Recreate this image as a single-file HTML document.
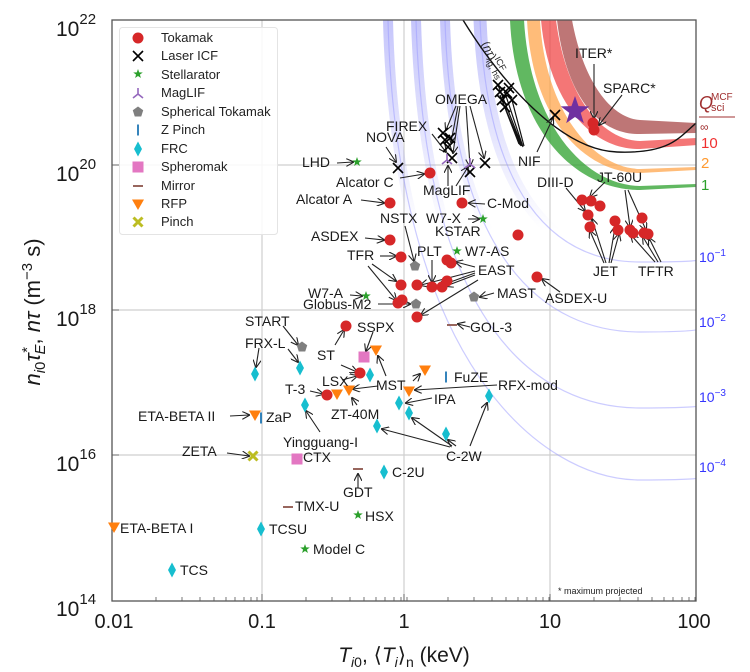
<!DOCTYPE html>
<html><head><meta charset="utf-8"><style>
html,body{margin:0;padding:0;background:#fff;}
svg{display:block;font-family:"Liberation Sans",sans-serif;}
.l{font-size:14px;fill:#1a1a1a;}
.lg{font-size:13px;fill:#222;}
</style></head><body>
<svg width="750" height="672" viewBox="0 0 750 672" xmlns="http://www.w3.org/2000/svg">
<defs>
<marker id="ah" markerWidth="8" markerHeight="8" refX="7" refY="4" orient="auto" markerUnits="userSpaceOnUse"><path d="M0,0 L8,4 L0,8" fill="none" stroke="#222" stroke-width="1.1"/></marker>
<g id="tk"><circle r="5.5" fill="#d62728"/></g>
<g id="xx"><path d="M-5,-5 L5,5 M-5,5 L5,-5" stroke="#000" stroke-width="1.6"/></g>
<g id="st"><polygon points="0,-5 1.18,-1.62 4.76,-1.55 1.9,0.62 2.94,4.05 0,2 -2.94,4.05 -1.9,0.62 -4.76,-1.55 -1.18,-1.62" fill="#2ca02c"/></g>
<g id="pg"><polygon points="0,-5.5 5.23,-1.7 3.23,4.45 -3.23,4.45 -5.23,-1.7" fill="#7f7f7f"/></g>
<g id="dm"><polygon points="0,-7.5 4,0 0,7.5 -4,0" fill="#17becf"/></g>
<g id="sq"><rect x="-5.5" y="-5.5" width="11" height="11" fill="#e377c2"/></g>
<g id="mr"><path d="M-5,0 L5,0" stroke="#8c564b" stroke-width="1.8"/></g>
<g id="rf"><polygon points="-6,-4.5 6,-4.5 0,6" fill="#ff7f0e"/></g>
<g id="pc"><path d="M-4.5,-4.5 L4.5,4.5 M-4.5,4.5 L4.5,-4.5" stroke="#bcbd22" stroke-width="3"/></g>
<g id="zp"><path d="M0,-5.5 L0,5.5" stroke="#1f77b4" stroke-width="1.8"/></g>
<g id="ml"><path d="M0,0 L0,-6 M0,0 L-5,4 M0,0 L5,4" stroke="#9467bd" stroke-width="1.6" fill="none"/></g>
<linearGradient id="bg" gradientUnits="userSpaceOnUse" x1="0" y1="20" x2="0" y2="230"><stop offset="0" stop-color="#6f6ff5" stop-opacity="0.4"/><stop offset="1" stop-color="#6f6ff5" stop-opacity="0"/></linearGradient>
<clipPath id="pa"><rect x="112" y="20" width="584" height="581"/></clipPath>
</defs>

<g stroke="#cfcfcf" stroke-width="1.2">
<line x1="262" y1="20" x2="262" y2="601"/><line x1="404" y1="20" x2="404" y2="601"/><line x1="550" y1="20" x2="550" y2="601"/>
<line x1="112" y1="165" x2="696" y2="165"/><line x1="112" y1="310" x2="696" y2="310"/><line x1="112" y1="455" x2="696" y2="455"/>
</g>

<g clip-path="url(#pa)">
<g fill="none">
<path d="M388,20 C396,360 540,480 640,480 S690,474 700,470" stroke="url(#bg)" stroke-width="10"/>
<path d="M416,20 C425,330 540,408 640,408 S690,402 700,398" stroke="url(#bg)" stroke-width="10"/>
<path d="M445,20 C452,260 545,332 640,332 S690,325 700,320" stroke="url(#bg)" stroke-width="10"/>
<path d="M480,20 C487,190 550,262 640,262 S690,258 700,254" stroke="url(#bg)" stroke-width="13"/>
<g stroke="#9a9aff" stroke-width="1.2" opacity="0.5">
<path d="M388,20 C396,360 540,480 640,480 S690,474 700,470"/>
<path d="M416,20 C425,330 540,408 640,408 S690,402 700,398"/>
<path d="M445,20 C452,260 545,332 640,332 S690,325 700,320"/>
<path d="M480,20 C487,190 550,262 640,262 S690,258 700,254"/>
</g>
</g>
<path d="M510,20 C515,130 575,190 640,190 L697,187 L697,184 L640,186 C585,185 530,125 524,20 Z" fill="#2ca02c" opacity="0.75"/>
<path d="M527,20 C532,120 585,173 640,173 L697,170 L697,167 L640,169 C592,168 545,110 540,20 Z" fill="#ffa040" opacity="0.7"/>
<path d="M541,20 C548,100 590,150 640,149 L697,145 L697,138 L640,141 C598,140 565,90 556,20 Z" fill="#f03c3c" opacity="0.7"/>
<path d="M557,20 C565,90 595,135 640,134 L697,133 L697,123 L640,120 C610,118 583,80 572,20 Z" fill="#a84848" opacity="0.75"/>
<path d="M463,20 C500,80 560,150 617,152 S680,135 700,120" fill="none" stroke="#111" stroke-width="1.4"/>
</g>
<text transform="translate(481,44) rotate(62)" font-size="12" fill="#222">(<tspan font-style="italic">nτ</tspan>)<tspan dy="-5" font-size="9">ICF</tspan><tspan dy="9" dx="-16" font-size="9">ig, hs</tspan></text>

<rect x="112" y="20" width="584" height="581" fill="none" stroke="#555" stroke-width="1.3"/>
<g stroke="#555" stroke-width="0.8">
<path d="M156,601v-4M182,601v-4M200,601v-4M214,601v-4M226,601v-4M235,601v-4M244,601v-4M251,601v-4M257,601v-4
M306,601v-4M332,601v-4M350,601v-4M364,601v-4M376,601v-4M385,601v-4M394,601v-4M401,601v-4M407,601v-4
M448,601v-4M474,601v-4M492,601v-4M506,601v-4M518,601v-4M527,601v-4M536,601v-4M543,601v-4M549,601v-4
M594,601v-4M620,601v-4M638,601v-4M652,601v-4M664,601v-4M673,601v-4M682,601v-4M689,601v-4M695,601v-4"/>
<path d="M262,601v-7M404,601v-7M550,601v-7M112,165h7M112,310h7M112,455h7"/>
</g>

<g stroke="#222" stroke-width="1.1" marker-end="url(#ah)" fill="none">
<line x1="337" y1="163" x2="353" y2="162"/>
<line x1="386" y1="147" x2="396" y2="162"/>
<line x1="432" y1="134" x2="446" y2="152"/>
<line x1="456" y1="106" x2="446" y2="130"/>
<line x1="458" y1="106" x2="451" y2="142"/>
<line x1="460" y1="106" x2="453" y2="153"/>
<line x1="466" y1="106" x2="470" y2="166"/>
<line x1="470" y1="106" x2="484" y2="158"/>
<line x1="537" y1="152" x2="553" y2="118"/>
<line x1="594" y1="64" x2="594" y2="118"/>
<line x1="622" y1="95" x2="599" y2="125"/>
<line x1="448" y1="186" x2="448" y2="166"/>
<line x1="456" y1="186" x2="468" y2="167"/>
<line x1="400" y1="178" x2="424" y2="174"/>
<line x1="361" y1="200" x2="384" y2="203"/>
<line x1="485" y1="204" x2="469" y2="203"/>
<line x1="468" y1="219" x2="479" y2="219"/>
<line x1="365" y1="238" x2="384" y2="240"/>
<line x1="380" y1="256" x2="396" y2="256"/>
<line x1="372" y1="264" x2="396" y2="281"/>
<line x1="368" y1="266" x2="396" y2="300"/>
<line x1="405" y1="226" x2="414" y2="261"/>
<line x1="432" y1="260" x2="432" y2="282"/>
<line x1="475" y1="267" x2="456" y2="262"/>
<line x1="475" y1="271" x2="421" y2="285"/>
<line x1="475" y1="273" x2="437" y2="287"/>
<line x1="475" y1="275" x2="446" y2="286"/>
<line x1="478" y1="280" x2="421" y2="315"/>
<line x1="494" y1="293" x2="480" y2="297"/>
<line x1="560" y1="292" x2="542" y2="279"/>
<line x1="566" y1="188" x2="585" y2="211"/>
<line x1="605" y1="182" x2="590" y2="197"/>
<line x1="604" y1="263" x2="590" y2="231"/>
<line x1="606" y1="263" x2="592" y2="219"/>
<line x1="609" y1="263" x2="615" y2="227"/>
<line x1="611" y1="263" x2="619" y2="234"/>
<line x1="655" y1="262" x2="631" y2="235"/>
<line x1="658" y1="262" x2="643" y2="237"/>
<line x1="661" y1="262" x2="649" y2="238"/>
<line x1="625" y1="190" x2="630" y2="227"/>
<line x1="628" y1="190" x2="646" y2="230"/>
<line x1="350" y1="295" x2="362" y2="296"/>
<line x1="378" y1="304" x2="410" y2="304"/>
<line x1="283" y1="326" x2="298" y2="345"/>
<line x1="259" y1="348" x2="256" y2="367"/>
<line x1="288" y1="349" x2="298" y2="362"/>
<line x1="335" y1="345" x2="344" y2="330"/>
<line x1="373" y1="332" x2="366" y2="351"/>
<line x1="341" y1="365" x2="357" y2="372"/>
<line x1="342" y1="380" x2="357" y2="376"/>
<line x1="386" y1="376" x2="378" y2="356"/>
<line x1="378" y1="386" x2="353" y2="389"/>
<line x1="310" y1="391" x2="323" y2="394"/>
<line x1="357" y1="405" x2="352" y2="398"/>
<line x1="497" y1="385" x2="415" y2="390"/>
<line x1="432" y1="398" x2="406" y2="403"/>
<line x1="413" y1="381" x2="420" y2="374"/>
<line x1="230" y1="416" x2="249" y2="415"/>
<line x1="320" y1="432" x2="306" y2="411"/>
<line x1="450" y1="447" x2="382" y2="429"/>
<line x1="452" y1="446" x2="412" y2="418"/>
<line x1="456" y1="446" x2="448" y2="440"/>
<line x1="470" y1="446" x2="487" y2="403"/>
<line x1="227" y1="453" x2="249" y2="456"/>
<line x1="358" y1="488" x2="358" y2="474"/>
<line x1="470" y1="327" x2="458" y2="324"/>
</g>
<g stroke="#111" stroke-width="1.2"><path d="M498,85 L522,146 M505,93 L523,147 M502,100 L521,146 M512,100 L524,146 M505,107 L520,145 M500,95 L519,144"/></g>

<use href="#xx" x="398" y="168"/><use href="#xx" x="498" y="85"/><use href="#xx" x="507" y="93"/><use href="#xx" x="502" y="100"/><use href="#xx" x="512" y="100"/><use href="#xx" x="505" y="107"/><use href="#xx" x="500" y="92"/><use href="#xx" x="509" y="88"/>
<use href="#xx" x="443" y="133"/><use href="#xx" x="450" y="138"/><use href="#xx" x="448" y="147"/><use href="#xx" x="445" y="140"/><use href="#xx" x="452" y="158"/><use href="#xx" x="470" y="172"/><use href="#xx" x="485" y="163"/><use href="#xx" x="555" y="115"/>
<use href="#ml" x="447" y="160"/><use href="#ml" x="470" y="164"/>
<use href="#tk" x="430" y="173"/><use href="#tk" x="390" y="203"/><use href="#tk" x="462" y="203"/><use href="#tk" x="518" y="235"/><use href="#tk" x="390" y="240"/><use href="#tk" x="401" y="257"/><use href="#tk" x="447" y="260"/><use href="#tk" x="451" y="263"/>
<use href="#tk" x="401" y="285"/><use href="#tk" x="417" y="285"/><use href="#tk" x="432" y="287"/><use href="#tk" x="442" y="287"/><use href="#tk" x="447" y="281"/><use href="#tk" x="398" y="303"/><use href="#tk" x="402" y="300"/><use href="#tk" x="417" y="317"/><use href="#tk" x="537" y="277"/>
<use href="#tk" x="593" y="123"/><use href="#tk" x="594" y="130"/>
<use href="#tk" x="582" y="200"/><use href="#tk" x="591" y="201"/><use href="#tk" x="600" y="206"/><use href="#tk" x="588" y="215"/><use href="#tk" x="590" y="227"/>
<use href="#tk" x="615" y="221"/><use href="#tk" x="618" y="230"/><use href="#tk" x="630" y="230"/><use href="#tk" x="633" y="233"/><use href="#tk" x="642" y="218"/><use href="#tk" x="644" y="233"/><use href="#tk" x="648" y="234"/>
<use href="#tk" x="346" y="326"/><use href="#tk" x="360" y="373"/><use href="#tk" x="327" y="395"/>
<use href="#st" x="357" y="162"/><use href="#st" x="483" y="219"/><use href="#st" x="457" y="251"/><use href="#st" x="366" y="296"/><use href="#st" x="358" y="515"/><use href="#st" x="305" y="549"/>
<use href="#pg" x="415" y="266"/><use href="#pg" x="416" y="304"/><use href="#pg" x="474" y="297"/><use href="#pg" x="302" y="347"/>
<use href="#dm" x="255" y="374"/><use href="#dm" x="300" y="368"/><use href="#dm" x="370" y="375"/><use href="#dm" x="305" y="405"/><use href="#dm" x="399" y="403"/><use href="#dm" x="409" y="413"/><use href="#dm" x="377" y="426"/><use href="#dm" x="446" y="434"/><use href="#dm" x="489" y="396"/><use href="#dm" x="384" y="472"/><use href="#dm" x="261" y="529"/><use href="#dm" x="172" y="570"/>
<use href="#sq" x="364" y="357"/><use href="#sq" x="297" y="459"/>
<use href="#rf" x="376" y="350"/><use href="#rf" x="425" y="370"/><use href="#rf" x="409" y="391"/><use href="#rf" x="349" y="390"/><use href="#rf" x="337" y="394"/><use href="#rf" x="255" y="415"/><use href="#rf" x="114" y="527"/>
<use href="#zp" x="446" y="377"/><use href="#zp" x="261" y="418"/>
<use href="#pc" x="253" y="456"/>
<use href="#mr" x="358" y="469"/><use href="#mr" x="288" y="507"/><use href="#mr" x="452" y="325"/>
<polygon transform="translate(575,111) scale(3)" points="0,-5 1.18,-1.62 4.76,-1.55 1.9,0.62 2.94,4.05 0,2 -2.94,4.05 -1.9,0.62 -4.76,-1.55 -1.18,-1.62" fill="#7030a0"/>

<g class="l">
<text x="302" y="167">LHD</text>
<text x="366" y="142">NOVA</text>
<text x="386" y="131">FIREX</text>
<text x="435" y="104">OMEGA</text>
<text x="518" y="166">NIF</text>
<text x="575" y="58">ITER*</text>
<text x="603" y="93">SPARC*</text>
<text x="336" y="187">Alcator C</text>
<text x="296" y="204">Alcator A</text>
<text x="423" y="195">MagLIF</text>
<text x="487" y="208">C-Mod</text>
<text x="380" y="223">NSTX</text>
<text x="426" y="223">W7-X</text>
<text x="435" y="236">KSTAR</text>
<text x="311" y="241">ASDEX</text>
<text x="347" y="260">TFR</text>
<text x="417" y="256">PLT</text>
<text x="465" y="256">W7-AS</text>
<text x="478" y="275">EAST</text>
<text x="497" y="298">MAST</text>
<text x="545" y="303">ASDEX-U</text>
<text x="537" y="187">DIII-D</text>
<text x="597" y="182">JT-60U</text>
<text x="593" y="276">JET</text>
<text x="638" y="276">TFTR</text>
<text x="308" y="298">W7-A</text>
<text x="303" y="309">Globus-M2</text>
<text x="245" y="326">START</text>
<text x="245" y="348">FRX-L</text>
<text x="317" y="360">ST</text>
<text x="357" y="332">SSPX</text>
<text x="322" y="386">LSX</text>
<text x="285" y="394">T-3</text>
<text x="376" y="390">MST</text>
<text x="454" y="382">FuZE</text>
<text x="498" y="390">RFX-mod</text>
<text x="434" y="404">IPA</text>
<text x="331" y="419">ZT-40M</text>
<text x="138" y="421">ETA-BETA II</text>
<text x="266" y="422">ZaP</text>
<text x="283" y="447">Yingguang-I</text>
<text x="446" y="461">C-2W</text>
<text x="182" y="456">ZETA</text>
<text x="303" y="462">CTX</text>
<text x="392" y="477">C-2U</text>
<text x="343" y="497">GDT</text>
<text x="295" y="511">TMX-U</text>
<text x="365" y="521">HSX</text>
<text x="120" y="533">ETA-BETA I</text>
<text x="269" y="534">TCSU</text>
<text x="313" y="554">Model C</text>
<text x="180" y="575">TCS</text>
<text x="470" y="332">GOL-3</text>
</g>
<text x="558" y="594" font-size="9" fill="#222">* maximum projected</text>

<rect x="119.5" y="27.5" width="158" height="207" rx="3" fill="#fff" fill-opacity="0.85" stroke="#e4e4e4"/>
<use href="#tk" x="138" y="38"/><use href="#xx" x="138" y="56"/><use href="#st" x="138" y="74"/><use href="#ml" x="138" y="94"/><use href="#pg" x="138" y="112"/><use href="#zp" x="138" y="130"/><use href="#dm" x="138" y="149"/><use href="#sq" x="138" y="167"/><use href="#mr" x="138" y="186"/><use href="#rf" x="138" y="204"/><use href="#pc" x="138" y="222"/>
<g class="lg">
<text x="161" y="42">Tokamak</text><text x="161" y="60">Laser ICF</text><text x="161" y="79">Stellarator</text><text x="161" y="97">MagLIF</text><text x="161" y="116">Spherical Tokamak</text><text x="161" y="134">Z Pinch</text><text x="161" y="153">FRC</text><text x="161" y="171">Spheromak</text><text x="161" y="190">Mirror</text><text x="161" y="208">RFP</text><text x="161" y="226">Pinch</text>
</g>

<text x="699" y="109" font-size="18" font-style="italic" fill="#a03030">Q</text>
<text x="711" y="100" font-size="10" fill="#a03030">MCF</text>
<text x="711" y="111" font-size="11" fill="#a03030">sci</text>
<line x1="699" y1="117" x2="735" y2="117" stroke="#a03030" stroke-width="1"/>
<text x="700" y="131" font-size="12" fill="#a03030">∞</text>
<text x="701" y="148" font-size="15" fill="#f03030">10</text>
<text x="701" y="168" font-size="15" fill="#ff9a30">2</text>
<text x="701" y="190" font-size="15" fill="#2ca02c">1</text>
<g font-size="14" fill="#3535ff">
<text x="699" y="262">10<tspan dy="-6" font-size="10">−1</tspan></text>
<text x="699" y="327">10<tspan dy="-6" font-size="10">−2</tspan></text>
<text x="699" y="402">10<tspan dy="-6" font-size="10">−3</tspan></text>
<text x="699" y="472">10<tspan dy="-6" font-size="10">−4</tspan></text>
</g>

<g font-size="21" fill="#1a1a1a">
<text x="56" y="36">10<tspan dy="-12" font-size="15">22</tspan></text>
<text x="56" y="181">10<tspan dy="-12" font-size="15">20</tspan></text>
<text x="56" y="326">10<tspan dy="-12" font-size="15">18</tspan></text>
<text x="56" y="471">10<tspan dy="-12" font-size="15">16</tspan></text>
<text x="56" y="616">10<tspan dy="-12" font-size="15">14</tspan></text>
</g>
<g font-size="20" fill="#1a1a1a" text-anchor="middle">
<text x="114" y="628">0.01</text><text x="262" y="628">0.1</text><text x="404" y="628">1</text><text x="550" y="628">10</text><text x="694" y="628">100</text>
</g>
<text x="404" y="662" font-size="21" text-anchor="middle" fill="#1a1a1a"><tspan font-style="italic">T</tspan><tspan font-size="14" dy="5" font-style="italic">i</tspan><tspan font-size="14">0</tspan><tspan dy="-5">, ⟨</tspan><tspan font-style="italic">T</tspan><tspan font-size="14" dy="5" font-style="italic">i</tspan><tspan dy="-5">⟩</tspan><tspan font-size="14" dy="5">n</tspan><tspan dy="-5"> (keV)</tspan></text>
<text transform="translate(40,312) rotate(-90)" font-size="22" text-anchor="middle" fill="#1a1a1a"><tspan font-style="italic">n</tspan><tspan font-size="15" dy="5" font-style="italic">i</tspan><tspan font-size="15">0</tspan><tspan dy="-5" font-style="italic">τ</tspan><tspan font-size="15" dy="-8" font-style="italic">*</tspan><tspan font-size="15" dy="13" dx="-7" font-style="italic">E</tspan><tspan dy="-5">, </tspan><tspan font-style="italic">nτ</tspan><tspan> (m</tspan><tspan font-size="15" dy="-8">−3</tspan><tspan dy="8"> s)</tspan></text>
</svg>
</body></html>
